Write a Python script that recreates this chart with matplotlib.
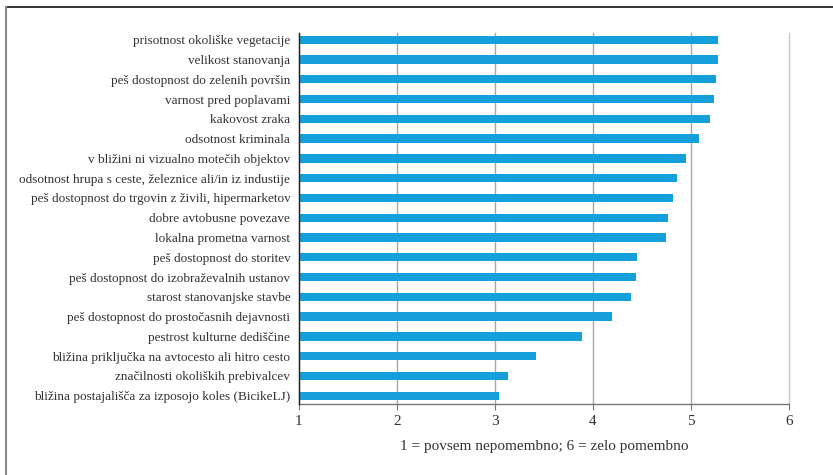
import matplotlib
matplotlib.use("Agg")
import matplotlib.pyplot as plt
from matplotlib.lines import Line2D

# Dejavniki bivalnega okolja, od najbolj do najmanj pomembnega
labels = [
    "prisotnost okoliške vegetacije",
    "velikost stanovanja",
    "peš dostopnost do zelenih površin",
    "varnost pred poplavami",
    "kakovost zraka",
    "odsotnost kriminala",
    "v bližini ni vizualno motečih objektov",
    "odsotnost hrupa s ceste, železnice ali/in iz industije",
    "peš dostopnost do trgovin z živili, hipermarketov",
    "dobre avtobusne povezave",
    "lokalna prometna varnost",
    "peš dostopnost do storitev",
    "peš dostopnost do izobraževalnih ustanov",
    "starost stanovanjske stavbe",
    "peš dostopnost do prostočasnih dejavnosti",
    "pestrost kulturne dediščine",
    "bližina priključka na avtocesto ali hitro cesto",
    "značilnosti okoliških prebivalcev",
    "bližina postajališča za izposojo koles (BicikeLJ)",
]
scores = [5.28, 5.28, 5.26, 5.24, 5.19, 5.08, 4.95, 4.86, 4.82, 4.77,
          4.75, 4.45, 4.44, 4.39, 4.20, 3.89, 3.42, 3.13, 3.04]
x_ticks = [1, 2, 3, 4, 5, 6]

plt.rcParams["font.family"] = ["Liberation Serif", "DejaVu Serif"]

fig = plt.figure(figsize=(8.33, 4.75), dpi=100)
W, H = 833, 475
left, right, top, bottom = 298.7, 789.0, 33.0, 404.3
ax = fig.add_axes([left / W, 1 - bottom / H, (right - left) / W, (bottom - top) / H])

n = len(labels)
ypos = list(range(n - 1, -1, -1))
base = x_ticks[0]
ax.barh(ypos, [s - base for s in scores], left=base, height=0.42,
        color="#16a0db", zorder=3)

ax.set_xlim(x_ticks[0], x_ticks[-1])
ax.set_ylim(-0.435, n - 1 + 0.34)
ax.set_xticks(x_ticks)
ax.set_xticklabels([str(t) for t in x_ticks], fontsize=11, color="#333333")
ax.set_yticks(ypos)
ax.set_yticklabels(labels, fontsize=9.5, color="#333333")
ax.tick_params(axis="y", length=0, pad=6)
ax.tick_params(axis="x", length=4, width=0.8, color="#777777", pad=4)

ax.grid(axis="x", color="#a8a8a8", linewidth=1.0, zorder=0)
for gl in ax.get_xgridlines():
    gl.set_clip_on(False)
ax.get_xgridlines()[-1].set_color("#c8c8c8")
for side in ("top", "right"):
    ax.spines[side].set_visible(False)
ax.spines["left"].set_color("#222222")
ax.spines["left"].set_linewidth(1.0)
ax.spines["left"].set_zorder(4)
ax.spines["bottom"].set_color("#777777")
ax.spines["bottom"].set_linewidth(1.0)

ax.set_xlabel("1 = povsem nepomembno; 6 = zelo pomembno", fontsize=11,
              color="#333333", labelpad=8)

# okvir: črna črta zgoraj in siva črta levo
fig.add_artist(Line2D([6 / W, 1], [1 - 7 / H, 1 - 7 / H], color="#111111",
                      linewidth=1.2, transform=fig.transFigure))
fig.add_artist(Line2D([6 / W, 6 / W], [0, 1 - 7 / H], color="#888888",
                      linewidth=1.5, transform=fig.transFigure))

fig.savefig("out.png", dpi=100)
